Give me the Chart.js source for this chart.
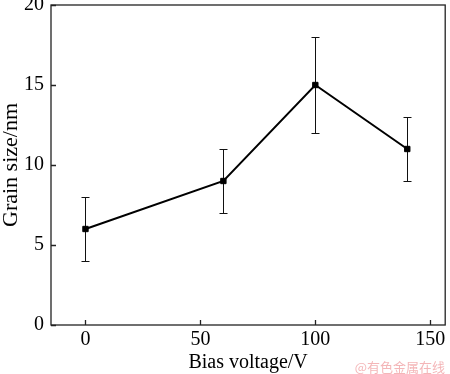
<!DOCTYPE html>
<html>
<head>
<meta charset="utf-8">
<script src="https://cdn.jsdelivr.net/npm/chart.js@4/dist/chart.umd.min.js"></script>
<style>
html,body{margin:0;padding:0;background:#fff;}
#wrap{position:relative;width:450px;height:374px;}
</style>
</head>
<body>
<div id="wrap"><canvas id="c" width="450" height="374"></canvas></div>
<script>
const voltages = [0, 60, 100, 140];
const grainSize = [6, 9, 15, 11];
const errLow = [4, 7, 12, 9];
const errHigh = [8, 11, 18, 13];
const xTicks = [0, 50, 100, 150];
const yTicks = [0, 5, 10, 15, 20];
const xTitle = 'Bias voltage/V';
const yTitle = 'Grain size/nm';
const watermark = '@有色金属在线';

const FONT = '"Liberation Serif", "Times New Roman", serif';
const ZERO = () => ({left: 0, top: 0, right: 0, bottom: 0});

const framePlugin = {
  id: 'frame',
  beforeDatasetsDraw(chart) {
    const ctx = chart.ctx;
    const xs = chart.scales.x, ys = chart.scales.y;
    ctx.save();
    ctx.strokeStyle = '#111';
    ctx.lineWidth = 1;
    voltages.forEach((v, i) => {
      const px = Math.round(xs.getPixelForValue(v)) + 0.5;
      const yl = ys.getPixelForValue(errLow[i]);
      const yh = ys.getPixelForValue(errHigh[i]);
      ctx.beginPath();
      ctx.moveTo(px, yl); ctx.lineTo(px, yh);
      ctx.moveTo(px - 4, Math.round(yl) + 0.5); ctx.lineTo(px + 4, Math.round(yl) + 0.5);
      ctx.moveTo(px - 4, Math.round(yh) + 0.5); ctx.lineTo(px + 4, Math.round(yh) + 0.5);
      ctx.stroke();
    });
    ctx.restore();
  },
  afterDraw(chart) {
    const ctx = chart.ctx;
    const a = chart.chartArea;
    const xs = chart.scales.x, ys = chart.scales.y;
    ctx.save();
    ctx.strokeStyle = '#222';
    ctx.lineWidth = 1.3;
    ctx.strokeRect(a.left, a.top, a.right - a.left, a.bottom - a.top);
    ctx.beginPath();
    xTicks.forEach(t => {
      const px = Math.round(xs.getPixelForValue(t)) + 0.5;
      ctx.moveTo(px, a.bottom); ctx.lineTo(px, a.bottom - 5);
    });
    yTicks.forEach(t => {
      const py = Math.round(ys.getPixelForValue(t)) + 0.5;
      ctx.moveTo(a.left, py); ctx.lineTo(a.left + 5, py);
    });
    ctx.stroke();
    ctx.fillStyle = '#f4b6b8';
    ctx.font = '13px "Noto Sans CJK SC", sans-serif';
    ctx.textAlign = 'right';
    ctx.textBaseline = 'middle';
    ctx.fillText(watermark, 445, 367);
    ctx.restore();
  }
};

new Chart(document.getElementById('c'), {
  type: 'scatter',
  data: {
    datasets: [{
      data: voltages.map((v, i) => ({x: v, y: grainSize[i]})),
      showLine: true,
      borderColor: '#000',
      backgroundColor: '#000',
      borderWidth: 2,
      pointStyle: 'rect',
      pointRadius: 3.8,
      pointBorderWidth: 1,
      pointHoverRadius: 3.8
    }]
  },
  options: {
    responsive: false,
    animation: false,
    events: [],
    layout: {padding: {top: 5, right: 1, left: 0, bottom: 0}},
    plugins: {legend: {display: false}, tooltip: {enabled: false}},
    scales: {
      x: {
        type: 'linear',
        min: -15, max: 156.5,
        afterBuildTicks: s => { s.ticks = xTicks.map(v => ({value: v})); },
        afterFit: s => { s.height = 49; s.paddingLeft = 0; s.paddingRight = 0; s.getPadding = ZERO; },
        grid: {display: false, drawTicks: false},
        border: {display: false},
        ticks: {color: '#000', font: {family: FONT, size: 20}, padding: 3, maxRotation: 0},
        title: {display: true, text: xTitle, color: '#000', font: {family: FONT, size: 20}, padding: {top: 0, bottom: -1}}
      },
      y: {
        type: 'linear',
        min: 0, max: 20,
        afterBuildTicks: s => { s.ticks = yTicks.map(v => ({value: v})); },
        afterFit: s => { s.width = 51; s.paddingTop = 0; s.paddingBottom = 0; s.getPadding = ZERO; },
        grid: {display: false, drawTicks: false},
        border: {display: false},
        ticks: {color: '#000', font: {family: FONT, size: 20}, padding: 7},
        title: {display: true, text: yTitle, color: '#000', font: {family: FONT, size: 22}, padding: {top: -2, bottom: 0}}
      }
    }
  },
  plugins: [framePlugin]
});
</script>
</body>
</html>
